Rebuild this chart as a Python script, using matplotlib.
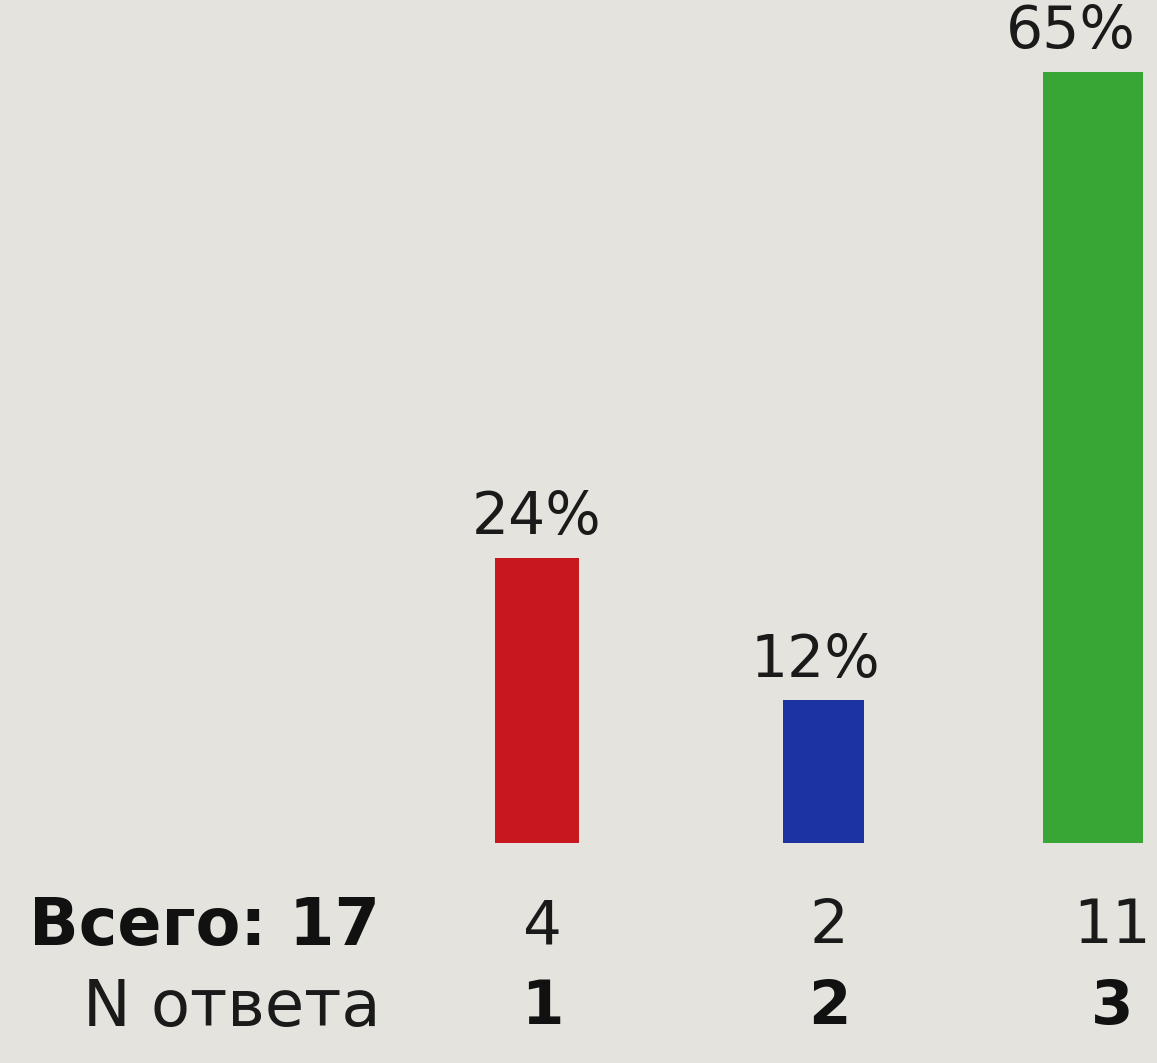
import matplotlib.pyplot as plt

# ==========================
# DATOS
# ==========================

respuestas = ["1", "2", "3"]
cantidades = [4, 2, 11]
porcentajes = [24, 12, 65]
total = 17
colores = ["#c8171f", "#1b33a3", "#38a634"]

fondo = "#e4e3dd"

# ==========================
# FIGURA
# ==========================

fig = plt.figure(figsize=(11.57, 10.63), dpi=100)
fig.patch.set_facecolor(fondo)

ax = fig.add_axes([0, 0, 1, 1])
ax.set_facecolor(fondo)

posiciones = [1, 2.03, 3.0]
anchos = [0.3, 0.29, 0.36]
# centro de los textos de abajo (la foto no es del todo regular)
pos_texto = [1.02, 2.05, 3.07]

ax.bar(posiciones, porcentajes, width=anchos, color=colores)

# porcentajes encima de cada barra
pos_pct = [1.0, 2.0, 2.92]
for x, p in zip(pos_pct, porcentajes):
    ax.text(x, p + 1.0, f"{p}%", ha="center", va="bottom",
            fontsize=42, color="#1a1a1a")

# fila de cantidades
ax.text(0.435, -7.1, f"Всего: {total}", ha="right", va="center",
        fontsize=47, fontweight="bold", color="#111111")
for x, c in zip(pos_texto, cantidades):
    ax.text(x, -7.1, str(c), ha="center", va="center",
            fontsize=44, color="#1a1a1a")

# fila de numero de respuesta
ax.text(0.435, -13.95, "N ответа", ha="right", va="center",
        fontsize=46, color="#1a1a1a")
for x, r in zip(pos_texto, respuestas):
    ax.text(x, -13.95, r, ha="center", va="center",
            fontsize=44, fontweight="bold", color="#111111")

ax.set_xlim(-0.932, -0.932 + 1157 / 278)
ax.set_ylim(-18.6, -18.6 + 1063 / 11.85)
ax.axis("off")

fig.savefig("out.png", dpi=100, facecolor=fondo)
